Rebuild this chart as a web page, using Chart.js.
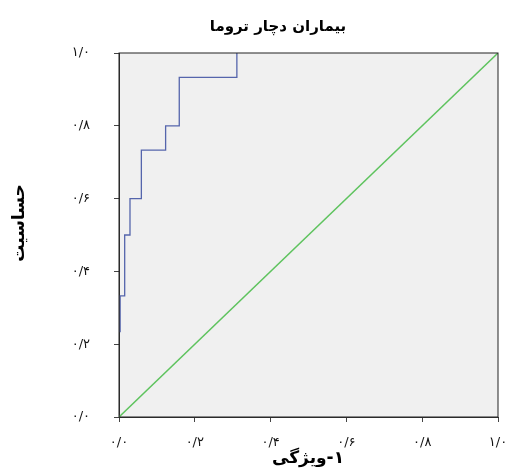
<!DOCTYPE html>
<html>
<head>
<meta charset="utf-8">
<script src="https://cdn.jsdelivr.net/npm/chart.js@4.4.1/dist/chart.umd.min.js"></script>
<style>
  html, body { margin: 0; padding: 0; background: #fff; }
  #wrap { width: 512px; height: 469px; }
</style>
</head>
<body>
<div id="wrap"><canvas id="rocChart" width="512" height="469"></canvas></div>
<script>
  // ----- DATA -----
  const chartTitle = 'بیماران دچار تروما';
  const xTitle = '۱-ویژگی';
  const yTitle = 'حساسیت';
  const tickLabels = ['۰/۰', '۰/۲', '۰/۴', '۰/۶', '۰/۸', '۱/۰'];
  // ROC curve corners (1 - specificity, sensitivity)
  const fpr = [0.003, 0.003, 0.015, 0.015, 0.029, 0.029, 0.059, 0.059, 0.123, 0.123, 0.159, 0.159, 0.311, 0.311];
  const tpr = [0.233, 0.333, 0.333, 0.5, 0.5, 0.6, 0.6, 0.733, 0.733, 0.8, 0.8, 0.933, 0.933, 1.0];
  // reference diagonal
  const refX = [0, 1];
  const refY = [0, 1];

  (function() {
    const toPoints = (xs, ys) => xs.map((x, i) => ({ x: x, y: ys[i] }));

    // plot background, frame and the rtl titles
    const frame = {
      id: 'frame',
      beforeDraw(chart) {
        const { ctx, chartArea: a } = chart;
        ctx.save();
        ctx.fillStyle = '#f0f0f0';
        ctx.fillRect(a.left, a.top, a.right - a.left, a.bottom - a.top);
        ctx.restore();
      },
      afterDatasetsDraw(chart) {
        const { ctx, chartArea: a } = chart;
        ctx.save();
        ctx.strokeStyle = '#222';
        ctx.lineWidth = 1;
        ctx.strokeRect(a.left, a.top, a.right - a.left, a.bottom - a.top);
        ctx.restore();
      },
      afterDraw(chart) {
        const { ctx } = chart;
        ctx.save();
        ctx.direction = 'rtl';
        ctx.fillStyle = '#000';
        ctx.textAlign = 'center';
        ctx.textBaseline = 'middle';
        ctx.font = 'bold 15px "DejaVu Sans"';
        ctx.fillText(chartTitle, 278, 27);
        ctx.font = 'bold 17px "DejaVu Sans"';
        ctx.fillText(xTitle, 308, 459);
        ctx.translate(20, 223);
        ctx.rotate(-Math.PI / 2);
        ctx.fillText(yTitle, 0, 0);
        ctx.restore();
      }
    };

    const axis = (pad, fit) => ({
      type: 'linear',
      min: 0,
      max: 1,
      ticks: {
        stepSize: 0.2,
        padding: pad,
        color: '#111',
        font: { family: 'DejaVu Sans', size: 13 },
        callback: (v, i) => tickLabels[i]
      },
      grid: { drawOnChartArea: false, drawTicks: true, tickLength: 5, color: '#444' },
      border: { color: '#333' },
      afterFit: fit
    });

    const ctx = document.getElementById('rocChart').getContext('2d');
    new Chart(ctx, {
      type: 'scatter',
      data: {
        datasets: [{
          data: toPoints(fpr, tpr),
          showLine: true,
          borderColor: '#5565ac',
          borderWidth: 1.3,
          pointRadius: 0
        }, {
          data: toPoints(refX, refY),
          showLine: true,
          borderColor: '#5ec35e',
          borderWidth: 1.5,
          pointRadius: 0
        }]
      },
      options: {
        responsive: false,
        animation: false,
        layout: { padding: { top: 53, right: 14, left: 0, bottom: 0 } },
        plugins: {
          legend: { display: false },
          tooltip: { enabled: false }
        },
        scales: {
          x: axis(13, s => { s.height = 52; s.paddingLeft = 0; s.paddingRight = 0; }),
          y: axis(24, s => { s.width = 119; s.paddingTop = 0; s.paddingBottom = 0; })
        }
      },
      plugins: [frame]
    });
  })();
</script>
</body>
</html>
